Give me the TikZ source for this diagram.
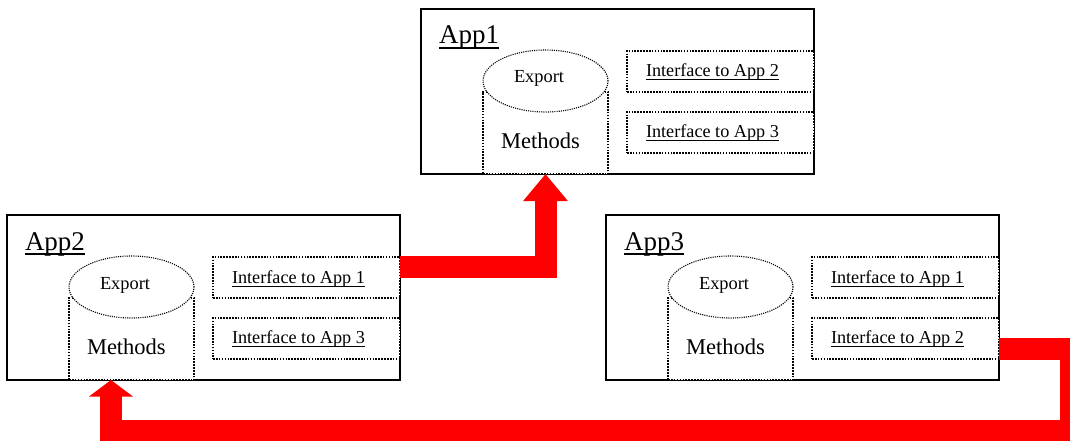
\documentclass[tikz,border=0pt]{standalone}
\usepackage{fontspec}
\setmainfont{Liberation Serif}
\usetikzlibrary{arrows.meta,shapes.geometric,calc}

% underlined text: #1 = rule depth below baseline, #2 = rule thickness, #3 = text
\newcommand\ulwith[3]{\setbox0=\hbox{#3}\rlap{\rule[-#1]{\wd0}{#2}}\box0}

\tikzset{
  appbox/.style={draw=black, line width=1.4pt, fill=white, rectangle,
    minimum width=393pt, minimum height=165pt, anchor=north west,
    inner sep=0pt, outer sep=0pt},
  ifbox/.style={draw=black, line width=1.6pt, dash pattern=on 1.6pt off 1.3pt,
    fill=white, rectangle, minimum width=187pt, minimum height=41pt,
    anchor=north west, inner sep=0pt, outer sep=0pt},
  cylbody/.style={draw=black, line width=1.6pt, dash pattern=on 1.6pt off 1.3pt,
    fill=white, rectangle, minimum width=125pt, minimum height=82pt,
    anchor=north west, inner sep=0pt, outer sep=0pt},
  cyltop/.style={ellipse, draw=black, line width=1.1pt,
    dash pattern=on 1.1pt off 1.1pt, fill=white, minimum width=125pt,
    minimum height=62pt, inner sep=0pt, outer sep=0pt},
  label/.style={inner sep=0pt, outer sep=0pt, anchor=base west},
  titletext/.style={label, font=\fontsize{27pt}{30pt}\selectfont},
  exporttext/.style={label, font=\fontsize{18.4pt}{21pt}\selectfont},
  methodtext/.style={label, font=\fontsize{22.5pt}{26pt}\selectfont},
  iftext/.style={label, font=\fontsize{18.2pt}{21pt}\selectfont},
  flow/.style={draw=red, line width=22pt, line join=miter},
}

% one application block: #1 name, #2 top-left corner, #3 title,
% #4 and #5 the two interface labels
\newcommand\application[5]{%
  \begin{scope}[shift={#2}]
    \node[appbox] (#1) at (0,0) {};
    \node[titletext] (#1-title) at (18,35) {\ulwith{4.8pt}{1.6pt}{#3}};
    \node[cylbody] (#1-body) at (62,83) {};
    \node[cyltop] (#1-top) at (124.5,72) {};
    \node[exporttext] (#1-export) at (93,74) {Export};
    \node[methodtext] (#1-methods) at (80,139) {Methods};
    \node[ifbox] (#1-if1) at (206,42) {};
    \node[ifbox] (#1-if2) at (206,103) {};
    \node[iftext] (#1-if1-label) at (225,68) {\ulwith{3.5pt}{1pt}{#4}};
    \node[iftext] (#1-if2-label) at (225,128) {\ulwith{3.5pt}{1pt}{#5}};
  \end{scope}}

\begin{document}
\begin{tikzpicture}[x=1pt, y=-1pt]
  \useasboundingbox (0,0) rectangle (1070,441);
  \clip (0,0) rectangle (1070,441);

  \application{app1}{(421,9)}{App1}{Interface to App 2}{Interface to App 3}
  \application{app2}{(7,215)}{App2}{Interface to App 1}{Interface to App 3}
  \application{app3}{(606,215)}{App3}{Interface to App 1}{Interface to App 2}

  % App2 -> App1
  \coordinate (a1) at ($(app2.north east)+(0,51.5)$);
  \draw[flow, -{Triangle[width=43pt,length=27pt]}] (a1) -| (app1-body.south);

  % App3 -> App2, routed round the bottom
  \coordinate (a2) at ($(app3.north east)+(0,134)$);
  \coordinate (a2end) at ($(app2-body.south)+(-20.5,0)$);
  \draw[flow, -{Triangle[width=43pt,length=16.5pt]}]
    (a2) -- ++(72,0) -- ++(0,82) -| (a2end);
\end{tikzpicture}
\end{document}
